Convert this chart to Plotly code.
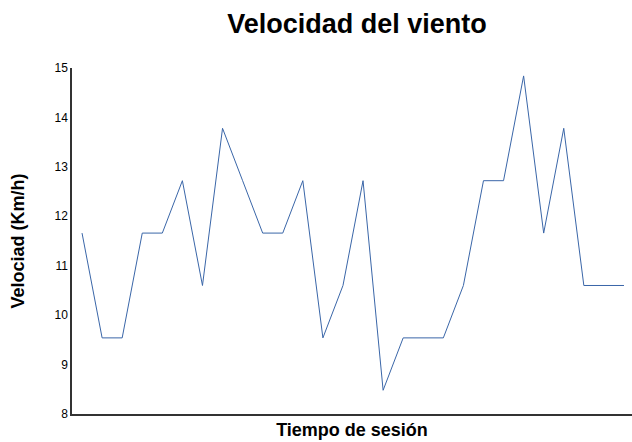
import plotly.graph_objects as go

tiempo = list(range(28))
velocidad = [11.66, 9.54, 9.54, 11.66, 11.66, 12.72, 10.6, 13.78, 12.72, 11.66,
             11.66, 12.72, 9.54, 10.6, 12.72, 8.48, 9.54, 9.54, 9.54, 10.6,
             12.72, 12.72, 14.84, 11.66, 13.78, 10.6, 10.6, 10.6]

fig = go.Figure(go.Scatter(x=tiempo, y=velocidad, mode="lines",
                           line=dict(color="#3a66a8", width=1)))

font = "Liberation Sans, Arial, sans-serif"
fig.update_layout(
    width=632, height=442,
    margin=dict(l=72, r=0, t=68, b=28, autoexpand=False),
    paper_bgcolor="white", plot_bgcolor="white",
    showlegend=False,
    font=dict(family=font, color="#000"),
    title=dict(text="<b>Velocidad del viento</b>", x=357/632, xref="container", xanchor="center",
               y=1 - 24/442, yanchor="middle", font=dict(size=27, family=font, color="#000")),
)
fig.update_xaxes(range=[-0.5, 27.4], showgrid=False, zeroline=False, showticklabels=False,
                 ticks="", showline=True, linecolor="#333", linewidth=1.5, automargin=False,
                 title=dict(text="<b>Tiempo de sesión</b>", font=dict(size=18, family=font), standoff=9))
fig.update_yaxes(range=[8, 15], dtick=1, showgrid=False, zeroline=False, ticks="",
                 showline=True, linecolor="#333", linewidth=1.5, automargin=False,
                 tickfont=dict(size=12, family=font, color="#000"),
                 title=dict(text="<b>Velociad (Km/h)</b>", font=dict(size=18, family=font), standoff=25))

fig.write_html("out.html", config={"displayModeBar": False},
               post_script="document.body.style.margin='0';")
